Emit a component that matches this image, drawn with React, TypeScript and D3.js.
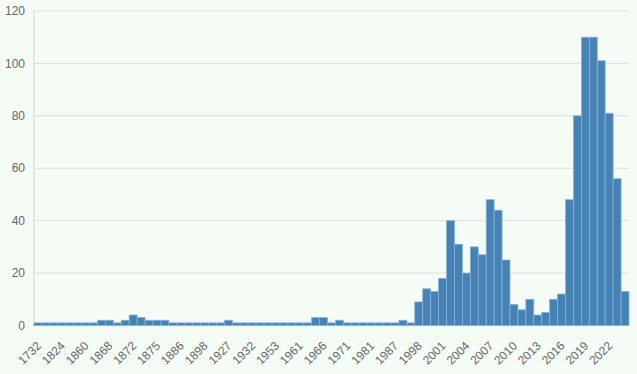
import React from "react";
import * as d3 from "d3";

const years: string[] = [
  "1732", "1765", "1811", "1824", "1838", "1851", "1860", "1864", "1866", "1868",
  "1869", "1870", "1872", "1873", "1874", "1875", "1877", "1880", "1886", "1890",
  "1895", "1898", "1905", "1919", "1927", "1929", "1930", "1932", "1938", "1947",
  "1953", "1956", "1959", "1961", "1963", "1965", "1966", "1968", "1969", "1971",
  "1975", "1978", "1981", "1983", "1985", "1987", "1990", "1994", "1998", "1999",
  "2000", "2001", "2002", "2003", "2004", "2005", "2006", "2007", "2008", "2009",
  "2010", "2011", "2012", "2013", "2014", "2015", "2016", "2017", "2018", "2019",
  "2020", "2021", "2022", "2023", "2024",
];

const counts: number[] = [
  1, 1, 1, 1, 1, 1, 1, 1, 2, 2,
  1, 2, 4, 3, 2, 2, 2, 1, 1, 1,
  1, 1, 1, 1, 2, 1, 1, 1, 1, 1,
  1, 1, 1, 1, 1, 3, 3, 1, 2, 1,
  1, 1, 1, 1, 1, 1, 2, 1, 9, 14,
  13, 18, 40, 31, 20, 30, 27, 48, 44, 25,
  8, 6, 10, 4, 5, 10, 12, 48, 80, 110,
  110, 101, 81, 56, 13,
];

const yTicks: number[] = [0, 20, 40, 60, 80, 100, 120];

const W = 637;
const H = 374;
const M = { left: 34, right: 8, top: 11, bottom: 48.5 };

export default function App() {
  const x = d3
    .scaleBand<string>()
    .domain(years)
    .range([M.left, W - M.right])
    .padding(0);
  const y = d3.scaleLinear().domain([0, 120]).range([H - M.bottom, M.top]);
  const bw = x.bandwidth();
  const font = "'Liberation Sans', Arial, Helvetica, sans-serif";

  return (
    <div
      style={{
        position: "fixed",
        left: 0,
        top: 0,
        width: W,
        height: H,
        background: "#f5fcf6",
      }}
    >
      <svg width={W} height={H} style={{ display: "block" }}>
        {yTicks.map((t) => (
          <g key={t}>
            <line
              x1={M.left}
              x2={W - M.right}
              y1={y(t)}
              y2={y(t)}
              stroke="#dcdfdc"
              strokeWidth={1}
            />
            <text
              x={M.left - 9}
              y={y(t)}
              dy="0.35em"
              textAnchor="end"
              fontFamily={font}
              fontSize={12}
              fill="#666"
            >
              {t}
            </text>
          </g>
        ))}
        <line
          x1={M.left}
          x2={M.left}
          y1={M.top}
          y2={H - M.bottom}
          stroke="#d0d4d0"
          strokeWidth={1}
        />
        {years.map((yr, i) => (
          <rect
            key={yr}
            x={x(yr)!}
            y={y(counts[i])}
            width={bw}
            height={y(0) - y(counts[i])}
            fill="#4682b4"
            stroke="#86b2dc"
            strokeWidth={0.8}
          />
        ))}
        {years.map((yr, i) =>
          i % 3 === 0 ? (
            <text
              key={"l" + yr}
              transform={`translate(${x(yr)! + bw / 2 + 1},${H - M.bottom + 18}) rotate(-45)`}
              textAnchor="end"
              dy="0.35em"
              fontFamily={font}
              fontSize={12}
              fill="#666"
            >
              {yr}
            </text>
          ) : null
        )}
      </svg>
    </div>
  );
}
